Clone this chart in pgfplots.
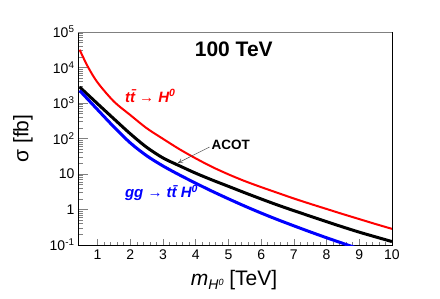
\documentclass[border=0pt]{standalone}
\usepackage{pgfplots}
\pgfplotsset{compat=1.18}
\usepackage{fontspec}
\setmainfont{Liberation Sans}
\usetikzlibrary{arrows.meta}
\definecolor{rootred}{RGB}{255,0,0}
\definecolor{rootblue}{RGB}{0,0,255}
\begin{document}
\begin{tikzpicture}
\useasboundingbox (0,0) rectangle (440pt,298pt);
\begin{axis}[
  at={(78pt,53pt)}, anchor=south west,
  scale only axis, width=314pt, height=213pt,
  ymode=log, xmin=0.4, xmax=10, ymin=0.1, ymax=100000,
  axis line style={line width=0.8pt},
  xtick pos=left, ytick pos=left, tick align=inside,
  xtick={1,2,3,4,5,6,7,8,9,10},
  xticklabels={1,2,3,4,5,6,7,8,9,10},
  minor x tick num=4,
  ytick={0.1,1,10,100,1000,10000,100000},
  yticklabels={10\textsuperscript{-1},1,10,10\textsuperscript{2},10\textsuperscript{3},10\textsuperscript{4},10\textsuperscript{5}},
  xtick style={/pgfplots/major tick length=6pt,/pgfplots/minor tick length=3pt,line width=0.6pt},
  ytick style={/pgfplots/major tick length=10pt,/pgfplots/minor tick length=5pt,line width=0.6pt},
  tick label style={font=\fontsize{14}{14}\selectfont},
  xticklabel style={yshift=-1pt},
  xlabel={\textit{m}\raisebox{-0.35ex}{\fontsize{14}{14}\selectfont\textit{H}\raisebox{0.6ex}{\fontsize{9}{9}\selectfont\textit{0}}} [TeV]},
  xlabel style={font=\fontsize{21}{21}\selectfont, at={(axis description cs:0.497,-0.192)}, anchor=base},
  ylabel={σ [fb]},
  ylabel style={font=\fontsize{21}{21}\selectfont, at={(axis description cs:-0.175,0.5)}, anchor=center},
  clip=true,
]
\addplot[rootred, line width=2pt, smooth] coordinates {
(0.45,31623) (0.70,10593) (1.0,3758) (1.5,1096) (2.0,457) (2.5,195) (3.0,97.7) (3.5,50.1)
(4.0,27.5) (4.5,15.85) (5.0,9.77) (5.5,6.31) (6.0,4.27) (6.5,2.95) (7.0,2.04) (7.5,1.445)
(8.0,1.035) (8.5,0.741) (9.0,0.537) (9.5,0.389) (10.0,0.285)};
\addplot[black, line width=3pt, smooth] coordinates {
(0.45,2818) (1.0,948) (1.5,356) (2.0,135.5) (2.5,56.5) (3.0,28.3) (3.5,17.06) (4.0,10.52)
(4.5,6.79) (5.0,4.49) (5.5,2.965) (6.0,1.98) (6.5,1.34) (7.0,0.927) (7.5,0.649) (8.0,0.454)
(8.5,0.321) (9.0,0.230) (9.5,0.169) (10.0,0.125)};
\addplot[rootblue, line width=3pt, smooth] coordinates {
(0.45,2239) (1.0,646) (1.5,211) (2.0,75.0) (2.5,32.7) (3.0,16.8) (3.5,9.44) (4.0,5.50)
(4.5,3.27) (5.0,2.00) (5.5,1.245) (6.0,0.794) (6.5,0.519) (7.0,0.347) (7.5,0.234) (8.0,0.160)
(8.5,0.111) (9.0,0.0776)};
\draw[gray, line width=0.8pt] (rel axis cs:0,1) -- (rel axis cs:1,1);
\node[anchor=base west, font=\fontsize{21}{21}\selectfont\bfseries, inner sep=0pt] at (axis cs:3.967,20150) {100 TeV};
\node[anchor=base west, font=\fontsize{15}{15}\selectfont\bfseries\itshape, text=rootred, inner sep=0pt] at (axis cs:1.833,1067) {t\={t} → H\textsuperscript{0}};
\node[anchor=base west, font=\fontsize{15}{15}\selectfont\bfseries\itshape, text=rootblue, inner sep=0pt] at (axis cs:1.833,2.11) {gg → t\={t} H\textsuperscript{0}};
\node[anchor=base west, font=\fontsize{13.5}{13.5}\selectfont\bfseries, inner sep=0pt] at (axis cs:4.476,50.6) {ACOT};
\draw[-{To[length=5pt,width=5pt]}, line width=0.5pt, black!70] (axis cs:4.42,57.5) -- (axis cs:3.45,20.4);
\end{axis}
\end{tikzpicture}
\end{document}
